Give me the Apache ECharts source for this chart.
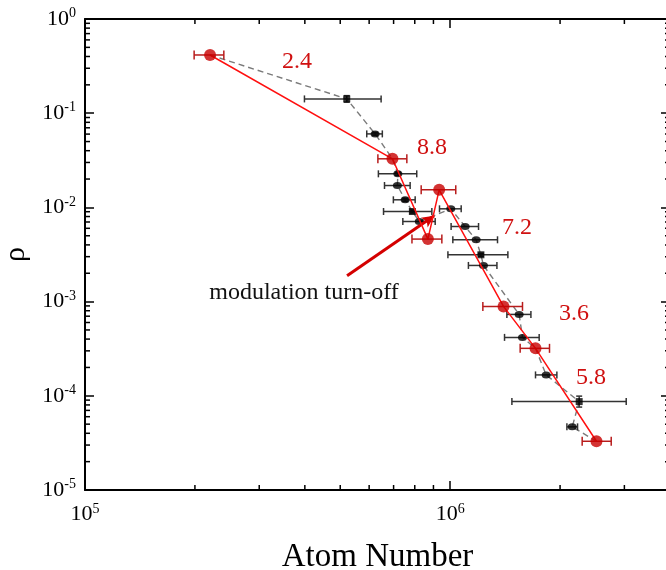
<!DOCTYPE html>
<html>
<head>
<meta charset="utf-8">
<script src="https://cdn.jsdelivr.net/npm/echarts@6/dist/echarts.min.js"></script>
<style>
  html, body { margin: 0; padding: 0; background: #fff; }
  #chart { width: 666px; height: 570px; }
</style>
</head>
<body>
<div id="chart"></div>
<script>
  // 红色点 (调制数据)
  const redX   = [2.20e5, 6.95e5, 8.69e5, 9.33e5, 1.400e6, 1.713e6, 2.516e6];
  const redY   = [0.415, 0.0328, 4.61e-3, 0.01537, 8.89e-4, 3.19e-4, 3.29e-5];
  const redXLo = [1.99e5, 6.34e5, 7.86e5, 8.33e5, 1.229e6, 1.555e6, 2.299e6];
  const redXHi = [2.40e5, 7.61e5, 9.49e5, 1.036e6, 1.578e6, 1.871e6, 2.761e6];

  // 黑色点
  const blkX   = [5.21e5, 6.23e5, 7.19e5, 7.17e5, 7.53e5, 7.88e5, 8.23e5, 1.004e6, 1.099e6, 1.178e6, 1.214e6, 1.234e6, 1.545e6, 1.578e6, 1.832e6, 2.256e6, 2.159e6];
  const blkY   = [0.1418, 0.0603, 0.02272, 0.01707, 0.01204, 9.05e-3, 7.09e-3, 9.66e-3, 6.27e-3, 4.53e-3, 3.14e-3, 2.42e-3, 7.31e-4, 4.17e-4, 1.666e-4, 8.68e-5, 4.68e-5];
  const blkXLo = [3.99e5, 5.91e5, 6.36e5, 6.61e5, 6.99e5, 6.57e5, 7.42e5, 9.35e5, 1.006e6, 1.017e6, 9.86e5, 1.122e6, 1.430e6, 1.409e6, 1.713e6, 1.476e6, 2.088e6];
  const blkXHi = [6.47e5, 6.52e5, 8.10e5, 7.77e5, 8.02e5, 8.91e5, 9.10e5, 1.072e6, 1.196e6, 1.348e6, 1.439e6, 1.343e6, 1.664e6, 1.753e6, 1.960e6, 3.035e6, 2.233e6];
  const blkYLo = [0.1309, 0.0582, 0.0219, 0.01707, 0.01160, 8.72e-3, 7.09e-3, 9.66e-3, 6.27e-3, 4.53e-3, 3.03e-3, 2.42e-3, 7.31e-4, 4.17e-4, 1.666e-4, 7.59e-5, 4.68e-5];
  const blkYHi = [0.1536, 0.0625, 0.0236, 0.01707, 0.01250, 9.39e-3, 7.09e-3, 9.66e-3, 6.27e-3, 4.53e-3, 3.26e-3, 2.42e-3, 7.31e-4, 4.17e-4, 1.666e-4, 9.92e-5, 4.68e-5];

  // 灰色虚线经过的点 ['r'/'b', 序号]
  const guidePath = [['r',0],['b',0],['b',1],['r',1],['b',2],['b',3],['b',4],['b',5],['b',6],['b',7],['b',8],['b',9],['b',10],['b',11],['b',12],['b',13],['r',5],['b',14],['b',15],['b',16],['r',6]];

  // 斜率标注
  const slopeText = ['2.4', '8.8', '7.2', '3.6', '5.8'];

  // 箭头 (数据坐标)
  const arrowFrom = [5.22e5, 1.88e-3];
  const arrowTo   = [9.04e5, 8.14e-3];

  // 刻度
  const xMinor = [2e5, 3e5, 4e5, 5e5, 6e5, 7e5, 8e5, 9e5, 2e6, 3e6];
  const yDecades = [1e-5, 1e-4, 1e-3, 1e-2, 1e-1];
  const minorMult = [2, 3, 4, 5, 6, 7, 8, 9];
  const yMinor = [];
  yDecades.forEach(d => minorMult.forEach(m => yMinor.push(m * d)));

  const X_MIN = 1e5, X_MAX = 4e6, Y_MIN = 1e-5, Y_MAX = 1;
  const SERIF = '"Liberation Serif", "DejaVu Serif", serif';

  const powLabel = (v) => {
    const e = Math.log10(v);
    if (Math.abs(e - Math.round(e)) > 1e-6) return '';
    return '{b|10}{s|' + Math.round(e) + '}';
  };
  const labelRich = {
    b: { fontFamily: SERIF, fontSize: 22, color: '#000', lineHeight: 25 },
    s: { fontFamily: SERIF, fontSize: 14, color: '#000', lineHeight: 14, verticalAlign: 'top' }
  };

  const redData = redX.map((x, i) => [x, redY[i], redXLo[i], redXHi[i]]);
  const blkData = blkX.map((x, i) => [x, blkY[i], blkXLo[i], blkXHi[i], blkYLo[i], blkYHi[i]]);
  const guideData = guidePath.map(p => p[0] === 'r' ? [redX[p[1]], redY[p[1]]] : [blkX[p[1]], blkY[p[1]]]);
  const squareIdx = [0, 5, 10, 15];

  // 误差棒
  const errRender = (color, cap, width) => (params, api) => {
    const y = api.value(1);
    const pl = api.coord([api.value(2), y]);
    const ph = api.coord([api.value(3), y]);
    const st = { stroke: color, lineWidth: width };
    const children = [
      { type: 'line', shape: { x1: pl[0], y1: pl[1], x2: ph[0], y2: ph[1] }, style: st },
      { type: 'line', shape: { x1: pl[0], y1: pl[1] - cap, x2: pl[0], y2: pl[1] + cap }, style: st },
      { type: 'line', shape: { x1: ph[0], y1: ph[1] - cap, x2: ph[0], y2: ph[1] + cap }, style: st }
    ];
    const ylo = api.value(4), yhi = api.value(5);
    if (!isNaN(ylo) && !isNaN(yhi) && ylo !== yhi) {
      const x = api.value(0);
      const a = api.coord([x, ylo]), b = api.coord([x, yhi]);
      children.push({ type: 'line', shape: { x1: a[0], y1: a[1], x2: b[0], y2: b[1] }, style: st });
      children.push({ type: 'line', shape: { x1: a[0] - 3, y1: a[1], x2: a[0] + 3, y2: a[1] }, style: st });
      children.push({ type: 'line', shape: { x1: b[0] - 3, y1: b[1], x2: b[0] + 3, y2: b[1] }, style: st });
    }
    return { type: 'group', children };
  };

  // 次刻度
  const xMinorRender = (params, api) => {
    const v = api.value(0);
    const b = api.coord([v, Y_MIN]), t = api.coord([v, Y_MAX]);
    const st = { stroke: '#000', lineWidth: 1.5 };
    return { type: 'group', children: [
      { type: 'line', shape: { x1: b[0], y1: b[1], x2: b[0], y2: b[1] - 5 }, style: st },
      { type: 'line', shape: { x1: t[0], y1: t[1], x2: t[0], y2: t[1] + 5 }, style: st }
    ]};
  };
  const yMinorRender = (params, api) => {
    const v = api.value(1);
    const l = api.coord([X_MIN, v]), r = api.coord([X_MAX, v]);
    const st = { stroke: '#000', lineWidth: 1.5 };
    return { type: 'group', children: [
      { type: 'line', shape: { x1: l[0], y1: l[1], x2: l[0] + 5, y2: l[1] }, style: st },
      { type: 'line', shape: { x1: r[0], y1: r[1], x2: r[0] - 5, y2: r[1] }, style: st }
    ]};
  };

  const axisCommon = {
    type: 'log',
    logBase: 10,
    axisLine: { show: true, onZero: false, lineStyle: { color: '#000', width: 2 } },
    axisTick: { show: true, inside: true, length: 9, lineStyle: { color: '#000', width: 1.5 } },
    splitLine: { show: false },
    minorTick: { show: false }
  };

  const myChart = echarts.init(document.getElementById('chart'), null, { renderer: 'canvas' });

  const annot = (text, x, y, size, color) => ({
    type: 'text', x: x, y: y, z: 100,
    style: { text: text, font: size + 'px ' + SERIF, fill: color, align: 'center', verticalAlign: 'middle' }
  });

  const option = {
    animation: false,
    grid: { left: 85, right: -4, top: 19, bottom: 80, containLabel: false, outerBoundsMode: 'none' },
    xAxis: [
      Object.assign({}, axisCommon, {
        position: 'bottom', min: X_MIN, max: X_MAX,
        name: 'Atom Number', nameLocation: 'middle', nameGap: 51,
        nameTextStyle: { fontFamily: SERIF, fontSize: 33, color: '#000' },
        axisLabel: { formatter: powLabel, rich: labelRich, margin: 12 }
      }),
      Object.assign({}, axisCommon, {
        position: 'top', min: X_MIN, max: X_MAX, axisLabel: { show: false }
      })
    ],
    yAxis: [
      Object.assign({}, axisCommon, {
        position: 'left', min: Y_MIN, max: Y_MAX,
        name: 'ρ', nameLocation: 'middle', nameGap: 48, nameRotate: 90,
        nameTextStyle: { fontFamily: SERIF, fontSize: 30, color: '#000' },
        axisLabel: { formatter: powLabel, rich: labelRich, margin: 9 }
      }),
      Object.assign({}, axisCommon, {
        position: 'right', min: Y_MIN, max: Y_MAX, axisLabel: { show: false }
      })
    ],
    series: [
      {
        type: 'custom', name: 'xminor', silent: true, clip: false, z: 1,
        data: xMinor.map(v => [v, Y_MIN]), renderItem: xMinorRender
      },
      {
        type: 'custom', name: 'yminor', silent: true, clip: false, z: 1,
        data: yMinor.map(v => [X_MIN, v]), renderItem: yMinorRender
      },
      {
        type: 'line', name: 'guide', data: guideData, silent: true, z: 2,
        symbol: 'none', lineStyle: { color: '#7a7a7a', width: 1.4, type: [6, 4] }
      },
      {
        type: 'custom', name: 'blkErr', silent: true, z: 3,
        encode: { x: 0, y: 1 },
        data: blkData, renderItem: errRender('#333', 3.5, 1.5)
      },
      {
        type: 'scatter', name: 'blk', silent: true, z: 4,
        data: blkData.map((d, i) => ({
          value: [d[0], d[1]],
          symbol: squareIdx.indexOf(i) >= 0 ? 'rect' : 'circle',
          symbolSize: squareIdx.indexOf(i) >= 0 ? 7 : [9, 7]
        })),
        itemStyle: { color: '#000' }
      },
      {
        type: 'line', name: 'red', silent: true, z: 5,
        data: redData.map(d => [d[0], d[1]]),
        symbol: 'none', lineStyle: { color: '#ff1010', width: 1.5 },
        markLine: {
          silent: true, symbol: ['none', 'arrow'], symbolSize: [9, 12],
          label: { show: false },
          lineStyle: { color: '#d40000', width: 3, type: 'solid' },
          data: [[{ coord: arrowFrom }, { coord: arrowTo }]]
        }
      },
      {
        type: 'custom', name: 'redErr', silent: true, z: 6,
        encode: { x: 0, y: 1 },
        data: redData, renderItem: errRender('#b81c1c', 4.5, 1.5)
      },
      {
        type: 'scatter', name: 'redPts', silent: true, z: 7,
        data: redData.map(d => [d[0], d[1]]),
        symbol: 'circle', symbolSize: 12, itemStyle: { color: '#c80000' }
      }
    ],
    graphic: {
      elements: [
        annot(slopeText[0], 297, 62, 24, '#d01010'),
        annot(slopeText[1], 432, 148, 24, '#d01010'),
        annot(slopeText[2], 517, 228, 24, '#d01010'),
        annot(slopeText[3], 574, 314, 24, '#d01010'),
        annot(slopeText[4], 591, 378, 24, '#d01010'),
        annot('modulation turn-off', 304, 293, 24, '#111')
      ]
    }
  };
  myChart.setOption(option);
  window.addEventListener('resize', myChart.resize);
</script>
</body>
</html>
